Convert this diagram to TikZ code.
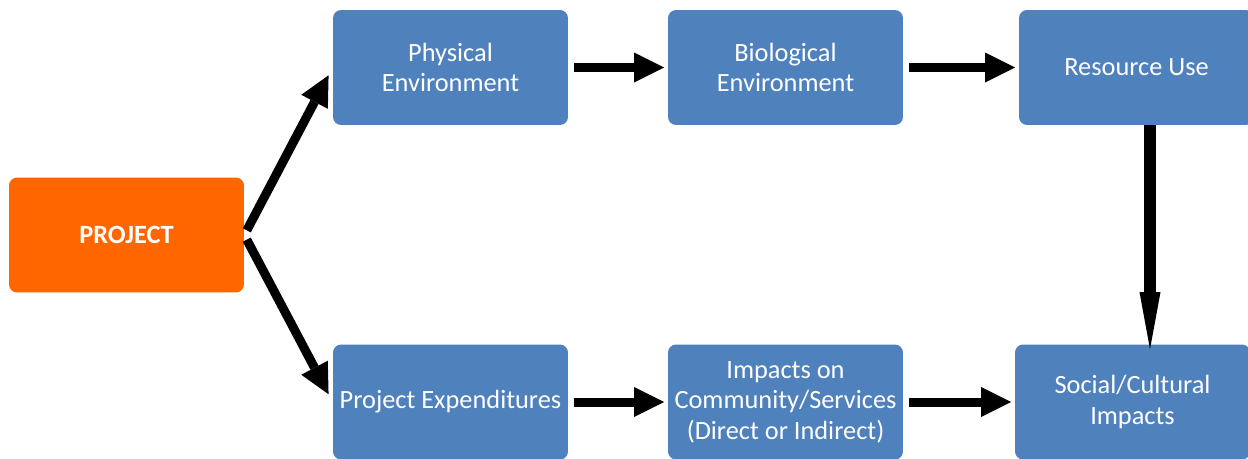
\documentclass[tikz,border=0pt]{standalone}
\usepackage{fontspec}
\setmainfont{Carlito}
\usetikzlibrary{arrows.meta}

\definecolor{boxblue}{HTML}{4F81BD}
\definecolor{projorange}{HTML}{FF6600}

\tikzset{
  box/.style={fill=boxblue, rounded corners=0.16cm, minimum width=4.7cm,
    minimum height=2.3cm, text=white, align=center, font=\fontsize{15}{17.3}\selectfont},
  projbox/.style={box, fill=projorange, font=\fontsize{15}{17.3}\selectfont\bfseries},
  flow/.style={line width=0.18cm, -{Triangle[length=0.6cm, width=0.6cm, line width=0pt]}},
  dropflow/.style={line width=0.24cm, -{Triangle[length=1.14cm, width=0.42cm, line width=0pt]}}
}

\begin{document}
\begin{tikzpicture}[x=0.02cm, y=0.02cm]
      \useasboundingbox (0,0) rectangle (1248,458);

      % Draw the boxes
      \node[projbox] (project) at (126.5,223) {PROJECT};
      \node[box] (phys) at (450.5,390.5) {Physical\\Environment};
      \node[box] (bio) at (785.5,390.5) {Biological\\Environment};
      \node[box] (res) at (1136.5,390.5) {Resource Use};
      \node[box] (exp) at (450.5,56) {Project Expenditures};
      \node[box] (imp) at (785.5,56) {Impacts on\\Community/Services\\(Direct or Indirect)};
      \node[box] (soc) at (1132.5,56) {Social/Cultural\\Impacts};

      % Draw the arrows
      \draw[flow, shorten <=3pt, shorten >=5pt] (project.east) -- (phys.west);
      \draw[flow, shorten <=3pt, shorten >=5pt] (project.east) -- (exp.west);
      \draw[flow, shorten <=3pt, shorten >=2pt] (phys.east) -- (bio.west);
      \draw[flow, shorten <=3pt, shorten >=2pt] (bio.east) -- (res.west);
      \draw[flow, shorten <=3pt, shorten >=2pt] (exp.east) -- (imp.west);
      \draw[flow, shorten <=3pt, shorten >=2pt] (imp.east) -- (soc.west);
      \draw[dropflow, shorten >=-0.1cm] ([xshift=0.27cm]res.south) -- ([xshift=0.27cm]res.south |- soc.north);
  \end{tikzpicture}
\end{document}
